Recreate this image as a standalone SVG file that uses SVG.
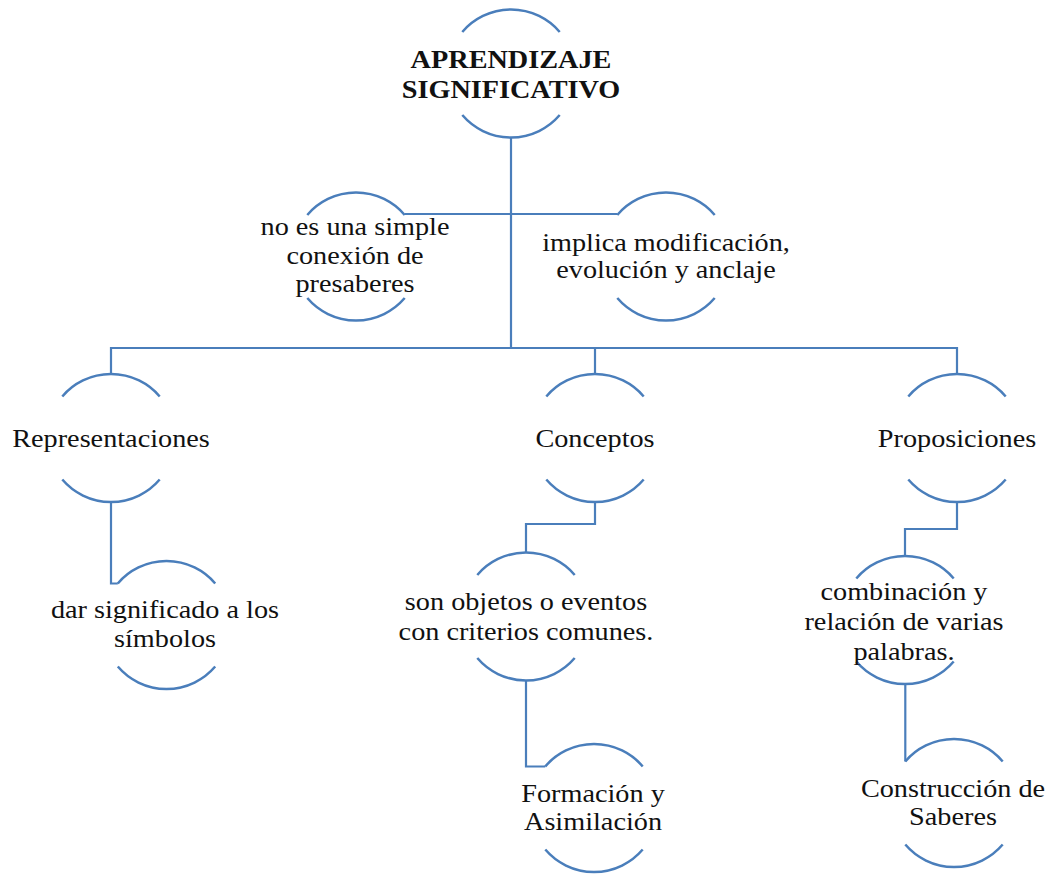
<svg xmlns="http://www.w3.org/2000/svg" width="1048" height="875" viewBox="0 0 1048 875">
<style>
.arc{fill:none;stroke:#4A7EBB;stroke-width:2.5;stroke-linecap:butt}
.con{fill:none;stroke:#4A7EBB;stroke-width:2.2}
text{font-family:"Liberation Serif","Times New Roman",serif;font-size:25px;fill:#111;text-anchor:middle}
.b{font-weight:bold}
</style>
<rect width="1048" height="875" fill="#fff"/>
<g id="connectors">
<path class="con" d="M511 137.5V348"/>
<path class="con" d="M404.7 214H617.3"/>
<path class="con" d="M111 374V348H957V374"/>
<path class="con" d="M595 348V374"/>
<path class="con" d="M111 502V583.5H117.8"/>
<path class="con" d="M595 502V524H526V552.5"/>
<path class="con" d="M526 680.5V766.5H545.3"/>
<path class="con" d="M957 502V529H905V556"/>
<path class="con" d="M905.3 684V761.5"/>
</g>
<g id="n-aprendizaje">
<path class="arc" d="M462.3 32A64 64 0 0 1 559.7 32M462.3 115A64 64 0 0 0 559.7 115"/>
<g transform="translate(511,0) scale(1.13,1)"><text class="b" x="0" y="68">APRENDIZAJE</text><text class="b" x="0" y="98">SIGNIFICATIVO</text></g>
</g>
<g id="n-conexion">
<path class="arc" d="M307.3 215A64 64 0 0 1 404.7 215M307.3 298A64 64 0 0 0 404.7 298"/>
<g transform="translate(355,0) scale(1.13,1)"><text x="0" y="235">no es una simple</text><text x="0" y="264">conexión de</text><text x="0" y="292">presaberes</text></g>
</g>
<g id="n-implica">
<path class="arc" d="M617.3 215A64 64 0 0 1 714.7 215M617.3 298A64 64 0 0 0 714.7 298"/>
<g transform="translate(666,0) scale(1.13,1)"><text x="0" y="251">implica modificación,</text><text x="0" y="278">evolución y anclaje</text></g>
</g>
<g id="n-representaciones">
<path class="arc" d="M62.3 396.5A64 64 0 0 1 159.7 396.5M62.3 479.5A64 64 0 0 0 159.7 479.5"/>
<g transform="translate(111,0) scale(1.13,1)"><text x="0" y="447">Representaciones</text></g>
</g>
<g id="n-conceptos">
<path class="arc" d="M546.3 396.5A64 64 0 0 1 643.7 396.5M546.3 479.5A64 64 0 0 0 643.7 479.5"/>
<g transform="translate(595,0) scale(1.13,1)"><text x="0" y="447">Conceptos</text></g>
</g>
<g id="n-proposiciones">
<path class="arc" d="M908.3 396.5A64 64 0 0 1 1005.7 396.5M908.3 479.5A64 64 0 0 0 1005.7 479.5"/>
<g transform="translate(957,0) scale(1.13,1)"><text x="0" y="447">Proposiciones</text></g>
</g>
<g id="n-simbolos">
<path class="arc" d="M117.8 583.5A64 64 0 0 1 215.2 583.5M117.8 666.5A64 64 0 0 0 215.2 666.5"/>
<g transform="translate(165,0) scale(1.13,1)"><text x="0" y="618">dar significado a los</text><text x="0" y="647">símbolos</text></g>
</g>
<g id="n-objetos">
<path class="arc" d="M477.3 575A64 64 0 0 1 574.7 575M477.3 658A64 64 0 0 0 574.7 658"/>
<g transform="translate(526,0) scale(1.13,1)"><text x="0" y="610">son objetos o eventos</text><text x="0" y="640">con criterios comunes.</text></g>
</g>
<g id="n-combinacion">
<path class="arc" d="M856.3 578.5A64 64 0 0 1 953.7 578.5M856.3 661.5A64 64 0 0 0 953.7 661.5"/>
<g transform="translate(904,0) scale(1.13,1)"><text x="0" y="600">combinación y</text><text x="0" y="630">relación de varias</text><text x="0" y="660">palabras.</text></g>
</g>
<g id="n-formacion">
<path class="arc" d="M545.3 766.5A64 64 0 0 1 642.7 766.5M545.3 849.5A64 64 0 0 0 642.7 849.5"/>
<g transform="translate(593,0) scale(1.13,1)"><text x="0" y="802">Formación y</text><text x="0" y="830">Asimilación</text></g>
</g>
<g id="n-construccion">
<path class="arc" d="M905.3 761.5A64 64 0 0 1 1002.7 761.5M905.3 844.5A64 64 0 0 0 1002.7 844.5"/>
<g transform="translate(953,0) scale(1.13,1)"><text x="0" y="797">Construcción de</text><text x="0" y="825">Saberes</text></g>
</g>
</svg>
